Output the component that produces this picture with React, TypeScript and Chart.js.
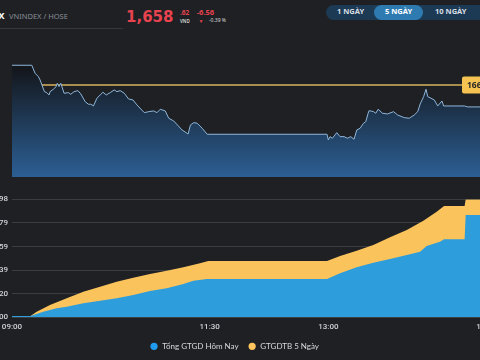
import React, { useEffect, useRef } from "react";
import { Chart, registerables } from "chart.js";
Chart.register(...registerables);

// ---- Index line (VNINDEX, minutes since 09:00) ----
const indexMinutes = [0,15,17.5,20,21.3,24.6,26.4,28.1,28.9,31.4,33.5,34.4,35.7,37,39.5,42.8,44.6,47.1,50,52.2,55.5,58,59.8,61.8,64.4,66.9,69,71.5,74.5,77.6,79.6,82.1,85.2,88.4,91.8,94.8,100.4,103.7,107.5,110,112.5,116.3,118.9,122.7,129,133.6,135.4,137.9,140.5,144.3,148.1,239,240,241.3,243.1,246.4,248.9,251.9,254.5,257,259.5,261.6,264.1,266.7,268.4,270.2,270.9,274.3,276,277.8,281.1,284.9,289.5,292.5,297.6,301.4,305.2,307.8,309.7,312.3,314.1,315.4,317.9,320.4,323,326.2,327.5,343.2,345.8,360];
const indexValues = [1671.06,1671.06,1668.67,1667.66,1666.67,1663.18,1662.88,1662.19,1663.18,1663.90,1664.67,1665.69,1664.67,1665.69,1662.70,1662.88,1662.40,1663.18,1663.48,1662.49,1660.19,1659.42,1659.42,1658.91,1661.21,1662.19,1663.00,1662.19,1662.88,1663.69,1663.18,1663.48,1662.70,1661.00,1660.70,1659.21,1656.91,1657.21,1657.42,1656.91,1657.93,1657.42,1655.24,1654.43,1651.75,1650.55,1653.24,1653.93,1653.75,1652.25,1650.46,1650.46,1648.76,1649.75,1649.27,1650.94,1649.75,1649.75,1649.27,1649.75,1648.97,1651.75,1652.25,1653.75,1654.22,1656.73,1657.51,1657.21,1656.73,1657.93,1656.73,1656.52,1657.21,1656.22,1655.42,1655.24,1656.22,1657.21,1659.51,1661.69,1663.90,1661.69,1661.21,1660.70,1658.91,1660.40,1658.91,1658.91,1658.62,1658.62];
const refValue = 1665.18;
const indexMin = 1637.7;
const indexMax = 1678.6;

// ---- Trading value (cumulative) ----
const seriesNames = ["Tổng GTGD Hôm Nay", "GTGDTB 5 Ngày"];
const seriesColors = ["#2e9ddc", "#fbc35c"];
const todayMinutes = [0,14,23.7,33.9,41.5,54.1,66.8,79.4,92,104.7,117.4,130,137.6,147.7,239,248.9,261.5,274.1,286.8,299.5,309.6,314.6,324.7,327.8,343.4,344.2,360];
const todayValues = [0.3,0.3,1.23,1.98,2.33,3.08,3.66,4.18,4.91,5.79,6.39,7.33,8.06,8.43,8.43,9.69,11.01,12.02,12.84,13.72,14.45,15.70,16.65,17.18,17.18,22.53,22.53];
const avgMinutes = [0,14,18.7,28.8,41.5,54.1,66.8,79.4,92,104.7,117.4,130,142.6,148.9,239,248.9,261.5,274.1,286.8,299.5,312.1,322.2,327.8,343.4,344.2,360];
const avgValues = [0.3,0.3,1.23,2.71,4.18,5.64,6.74,7.84,8.72,9.54,10.26,11.01,11.89,12.40,12.40,13.50,14.67,15.92,17.62,19.22,21.27,23.25,24.51,24.51,25.98,25.98];

const xTickMinutes = [0, 150, 240, 360];
const xTickLabels = ["09:00", "11:30", "13:00", "15:00"];
const yTickValues = [0, 5.1966, 10.3932, 15.5898, 20.7864, 25.983];

const BG = "#1e2024";

const refLabelPlugin = {
  id: "refLabel",
  afterDatasetsDraw(chart: any) {
    const { ctx, chartArea, scales } = chart;
    const y = scales.y.getPixelForValue(refValue);
    const x = chartArea.right - 24.5;
    ctx.save();
    ctx.fillStyle = "#f6c352";
    ctx.beginPath();
    (ctx as any).roundRect(x, y - 8.5, 50, 17, 2);
    ctx.fill();
    ctx.fillStyle = "#262626";
    ctx.font = "bold 8.5px 'Noto Sans'";
    ctx.textBaseline = "middle";
    ctx.fillText(refValue.toFixed(2), x + 5, y + 0.5);
    ctx.restore();
  },
};

// legend drawn on the chart canvas (centered under the plot, like the original)
const dotLegendPlugin = {
  id: "dotLegend",
  afterDraw(chart: any) {
    const { ctx, chartArea } = chart;
    const ds = chart.data.datasets;
    ctx.save();
    ctx.font = "8px Lato";
    ctx.textBaseline = "middle";
    const r = 3.6;
    const gap = 4.5;
    const itemGap = 10;
    const widths = ds.map((d: any) => 2 * r + gap + ctx.measureText(d.label).width);
    const total = widths.reduce((a: number, b: number) => a + b, 0) + itemGap * (ds.length - 1);
    let x = 274.7 - total / 2;
    const y = chartArea.bottom + 29;
    ds.forEach((d: any, i: number) => {
      ctx.fillStyle = d.legendColor;
      ctx.beginPath();
      ctx.arc(x + r, y, r, 0, Math.PI * 2);
      ctx.fill();
      ctx.fillStyle = "#d8dadd";
      ctx.fillText(d.label, x + 2 * r + gap, y + 0.5);
      x += widths[i] + itemGap;
    });
    ctx.restore();
  },
};

function Txt(p: { t: string; l?: number; r?: number; b: number; s: number; w?: number; c: string; f?: string }) {
  const style: any = {
    position: "absolute",
    top: p.b - 0.88 * p.s,
    fontSize: p.s,
    lineHeight: p.s + "px",
    fontWeight: p.w || 400,
    color: p.c,
    fontFamily: p.f || "'Noto Sans', sans-serif",
    whiteSpace: "nowrap",
  };
  if (p.l !== undefined) style.left = p.l;
  if (p.r !== undefined) style.right = p.r;
  return <span style={style}>{p.t}</span>;
}

export default function App() {
  const topRef = useRef<HTMLCanvasElement>(null);
  const botRef = useRef<HTMLCanvasElement>(null);

  useEffect(() => {
    document.body.style.margin = "0";
    const dataMax = Math.max(...indexValues);
    const top = new Chart(topRef.current!, {
      type: "line",
      data: {
        datasets: [
          {
            data: indexMinutes.map((x, i) => ({ x, y: indexValues[i] })),
            borderColor: "#8fb7dc",
            borderWidth: 1,
            pointRadius: 0,
            tension: 0,
            fill: "start",
            backgroundColor: (c: any) => {
              const ch = c.chart;
              if (!ch.chartArea) return "#1d3450";
              const t = ch.scales.y.getPixelForValue(dataMax);
              const g = ch.ctx.createLinearGradient(0, t, 0, ch.chartArea.bottom);
              g.addColorStop(0, "#131519");
              g.addColorStop(1, "#2c5f94");
              return g;
            },
          },
          {
            data: [{ x: 0, y: refValue }, { x: 360, y: refValue }],
            borderColor: "#a88d4c",
            borderWidth: 2,
            pointRadius: 0,
            fill: false,
          },
        ],
      },
      options: {
        responsive: false,
        animation: false,
        events: [],
        layout: { padding: { left: 0, right: 45.5, top: 0, bottom: 3 } },
        scales: {
          x: { type: "linear", min: 0, max: 360, display: false },
          y: { min: indexMin, max: indexMax, display: false },
        },
        plugins: { legend: { display: false }, tooltip: { enabled: false } },
      },
      plugins: [refLabelPlugin],
    } as any);

    const bot = new Chart(botRef.current!, {
      type: "line",
      data: {
        datasets: [
          {
            label: seriesNames[0],
            legendColor: "#1f9cf0",
            data: todayMinutes.map((x, i) => ({ x, y: todayValues[i] })),
            borderWidth: 0,
            borderColor: seriesColors[0],
            backgroundColor: seriesColors[0],
            pointRadius: 0,
            tension: 0,
            fill: "origin",
          },
          {
            label: seriesNames[1],
            legendColor: "#fdc55e",
            data: avgMinutes.map((x, i) => ({ x, y: avgValues[i] })),
            borderWidth: 0,
            borderColor: seriesColors[1],
            backgroundColor: seriesColors[1],
            pointRadius: 0,
            tension: 0,
            fill: "origin",
          },
        ],
      },
      options: {
        responsive: false,
        animation: false,
        events: [],
        layout: { padding: { left: 0, right: 23.5, top: 14.3, bottom: 24.1 } },
        scales: {
          x: {
            type: "linear",
            min: 0,
            max: 360,
            afterBuildTicks: (s: any) => {
              s.ticks = xTickMinutes.map((v) => ({ value: v }));
            },
            ticks: {
              autoSkip: false,
              maxRotation: 0,
              padding: 5,
              color: "#d0d3d8",
              font: { size: 8, weight: "500", family: "Roboto" },
              callback: (v: any) => xTickLabels[xTickMinutes.indexOf(Number(v))],
            },
            grid: { display: false, drawTicks: false },
            border: { display: false },
          },
          y: {
            min: 0,
            max: 25.983,
            afterBuildTicks: (s: any) => {
              s.ticks = yTickValues.map((v) => ({ value: v }));
            },
            afterFit: (s: any) => {
              s.width = 52;
            },
            ticks: {
              padding: 4,
              color: "#d0d3d8",
              font: { size: 8, weight: "500", family: "Roboto" },
              callback: (v: any) => Number(v).toFixed(2),
            },
            grid: { color: "#3a3c41", drawTicks: false },
            border: { display: false },
          },
        },
        plugins: {
          tooltip: { enabled: false },
          legend: { display: false },
        },
      },
      plugins: [dotLegendPlugin],
    } as any);

    return () => {
      top.destroy();
      bot.destroy();
    };
  }, []);

  return (
    <div style={{ position: "relative", width: 480, height: 360, overflow: "hidden", background: BG }}>
      <Txt t="VNINDEX" r={475.5} b={19.3} s={9} w={700} c="#ffffff" />
      <Txt t="VNINDEX / HOSE" l={9} b={19.3} s={7.5} c="#8b8f96" />
      <Txt t="1,658" l={126} b={22.7} s={15} w={700} c="#e8434f" f="'DejaVu Sans', sans-serif" />
      <Txt t=".62" l={180} b={15.3} s={6.5} w={700} c="#e8434f" />
      <Txt t="VND" l={180} b={22.7} s={4.5} w={600} c="#dddddd" />
      <Txt t="-6.56" l={196.7} b={16} s={7.5} w={700} c="#e8434f" />
      <Txt t="▼" l={198.5} b={23} s={5} c="#e8434f" />
      <Txt t="-0.39 %" l={209} b={22.5} s={5} c="#dddddd" />
      <div style={{ position: "absolute", left: 0, top: 27.5, width: 123, height: 1, background: "#34373c" }} />
      <div style={{ position: "absolute", left: 326, top: 4.7, width: 200, height: 15.3, borderRadius: 8, background: "#1c3a54" }} />
      <div style={{ position: "absolute", left: 374, top: 4.7, width: 48.7, height: 15.3, borderRadius: 8, background: "#2e7bb1" }} />
      <Txt t="1 NGÀY" l={337} b={15} s={7.5} w={700} c="#d9dfe5" />
      <Txt t="5 NGÀY" l={385} b={15} s={7.5} w={700} c="#ffffff" />
      <Txt t="10 NGÀY" l={435} b={15} s={7.5} w={700} c="#d9dfe5" />
      <canvas ref={topRef} width={520} height={140} style={{ position: "absolute", left: 12, top: 40, width: 520, height: 140 }} />
      <canvas ref={botRef} width={550} height={176} style={{ position: "absolute", left: -40, top: 185, width: 550, height: 176 }} />
    </div>
  );
}
